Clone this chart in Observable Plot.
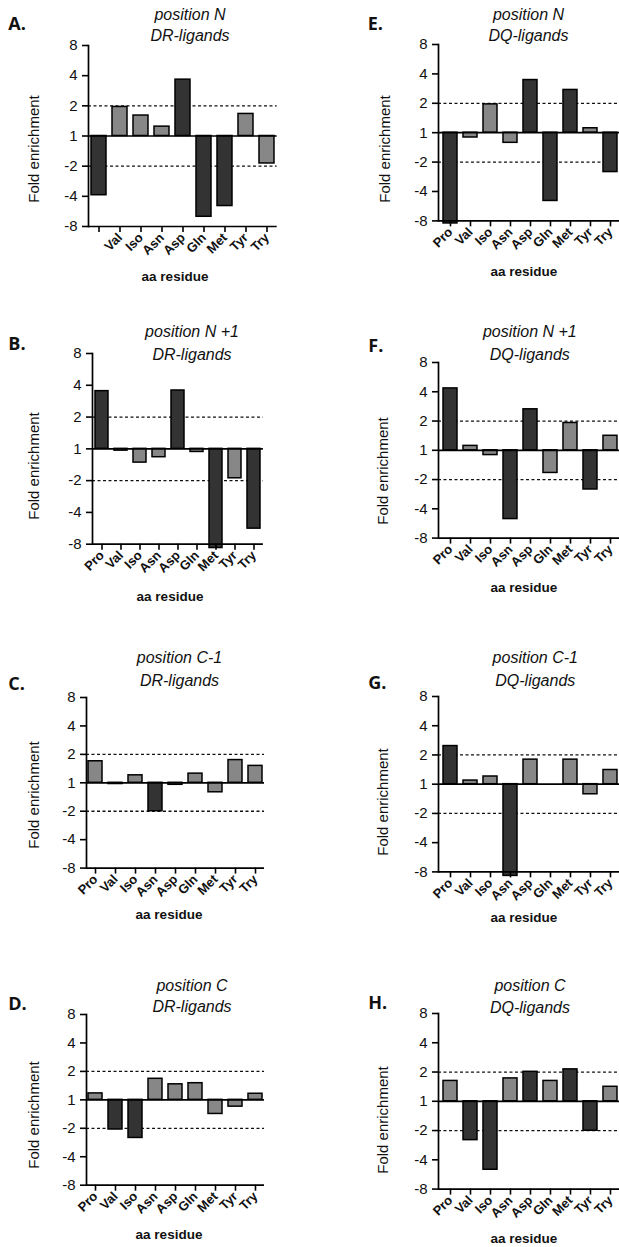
<!DOCTYPE html>
<html><head><meta charset="utf-8">
<script src="https://cdn.jsdelivr.net/npm/d3@7"></script>
<script src="https://cdn.jsdelivr.net/npm/@observablehq/plot@0.6"></script>
<style>
html,body{margin:0;padding:0;background:#fff;overflow:hidden;width:619px;height:1247px;}
#root{position:relative;width:619px;height:1247px;overflow:hidden;}
.abs{position:absolute;white-space:nowrap;font-family:"Liberation Sans",Arial,sans-serif;color:#111;line-height:1;}
.letter{font-family:"Open Sans",sans-serif;font-weight:700;font-size:18px;transform:translateY(-50%);}
.title{font-style:italic;font-size:16px;transform:translate(-50%,-50%);}
.ylab{font-size:15px;transform:translate(-50%,-50%) rotate(-90deg);}
.xlab{font-weight:bold;font-size:13.5px;transform:translate(-50%,-50%);}
svg{position:absolute;}
</style></head><body><div id="root"></div><script>
// ---- data ----
const residues = ["Pro","Val","Iso","Asn","Asp","Gln","Met","Tyr","Try"];
const yTickFolds = [8, 4, 2, 1, -2, -4, -8];
const thresholdFolds = [2, -2];
const positionTitles = ["position N", "position N +1", "position C-1", "position C"];
const ligandTitles = ["DR-ligands", "DQ-ligands"];
const panelLetters = ["A.","B.","C.","D.","E.","F.","G.","H."];

const foldA = [-3.9, 1.95, 1.6, 1.24, 3.65, -6.4, -5.0, 1.66, -1.88];
const sigA  = [1, 0, 0, 0, 1, 1, 1, 0, 0];
const foldB = [3.52, -1.04, -1.35, -1.2, 3.57, -1.07, -8.7, -1.9, -5.7];
const sigB  = [1, 0, 0, 0, 1, 0, 1, 0, 1];
const foldC = [1.69, -1.03, 1.2, -2.0, -1.05, 1.25, -1.26, 1.74, 1.51];
const sigC  = [0, 0, 0, 1, 0, 0, 0, 0, 0];
const foldD = [1.17, -2.06, -2.53, 1.67, 1.46, 1.5, -1.41, -1.18, 1.16];
const sigD  = [0, 1, 1, 0, 0, 0, 0, 0, 0];
const foldE = [-8.5, -1.12, 1.95, -1.27, 3.46, -5.0, 2.74, 1.11, -2.53];
const sigE  = [1, 0, 0, 0, 1, 1, 1, 0, 1];
const foldF = [4.33, 1.11, -1.12, -5.1, 2.64, -1.71, 1.91, -2.53, 1.41];
const sigF  = [1, 0, 0, 1, 1, 0, 0, 1, 0];
const foldG = [2.47, 1.09, 1.2, -8.8, 1.79, 1, 1.79, -1.27, 1.4];
const sigG  = [1, 0, 0, 1, 0, 0, 0, 0, 0];
const foldH = [1.62, -2.51, -5.06, 1.72, 2.01, 1.62, 2.13, -2.01, 1.41];
const sigH  = [0, 1, 1, 0, 1, 0, 1, 1, 0];
// Panel A shows no "Pro" tick label
const hiddenLabelsA = ["Pro"];

// ---- layout (positions / styles only) ----
const panels = [
  {letter:0, pos:0, lig:0, fold:foldA, sig:sigA, hidden:hiddenLabelsA, ax:88,    top:45,    bot:226,   step:21.2, lx:8.3,   ly:22.7,  tcx:190,   t1:15,    t2:36,    fx:33,    fy:149,   ax2:175,   ay:277},
  {letter:1, pos:1, lig:0, fold:foldB, sig:sigB, hidden:[], ax:91.7,  top:353.3, bot:544,   step:19.2, lx:8.3,   ly:343.3, tcx:192,   t1:332.3, t2:355,   fx:33,    fy:466,   ax2:170,   ay:597},
  {letter:2, pos:2, lig:0, fold:foldC, sig:sigC, hidden:[], ax:86,    top:696.7, bot:867.3, step:20,   lx:8.3,   ly:682.7, tcx:179.5, t1:658.3, t2:681,   fx:33,    fy:795,   ax2:169,   ay:915},
  {letter:3, pos:3, lig:0, fold:foldD, sig:sigD, hidden:[], ax:85.7,  top:1014.3,bot:1185,  step:20,   lx:8.3,   ly:1002.7,tcx:192,   t1:986,   t2:1007.3,fx:33,    fy:1115,  ax2:169,   ay:1235},
  {letter:4, pos:0, lig:1, fold:foldE, sig:sigE, hidden:[], ax:437.7, top:44.3,  bot:220.7, step:20.6, lx:367.7, ly:23,    tcx:528.5, t1:15,    t2:36,    fx:384,   fy:149,   ax2:523.8, ay:271.7},
  {letter:5, pos:1, lig:1, fold:foldF, sig:sigF, hidden:[], ax:437.7, top:361.7, bot:537.3, step:20.6, lx:368.3, ly:345,   tcx:529.8, t1:332,   t2:355,   fx:381.7, fy:470.7, ax2:523.8, ay:588.3},
  {letter:6, pos:2, lig:1, fold:foldG, sig:sigG, hidden:[], ax:437.7, top:696.3, bot:871.7, step:20.6, lx:368.3, ly:681.7, tcx:535.3, t1:658.3, t2:681,   fx:381.7, fy:801.7, ax2:523.8, ay:918},
  {letter:7, pos:3, lig:1, fold:foldH, sig:sigH, hidden:[], ax:437.7, top:1012.7,bot:1188.3,step:20.6, lx:368.3, ly:1001.7,tcx:530,   t1:986,   t2:1008,  fx:382,   fy:1120,  ax2:523.8, ay:1239}
];

// signed log2 position: 1 at 0, 2 at 1, -2 at -1 ...
const pos = f => f >= 1 ? Math.log2(f) : -Math.log2(-f);
const yTickPos = yTickFolds.map(pos);

const root = document.getElementById("root");
function addText(cls, txt, x, y) {
  const d = document.createElement("div");
  d.className = "abs " + cls;
  d.textContent = txt;
  d.style.left = x + "px";
  d.style.top = y + "px";
  root.appendChild(d);
}

const DARK = "#333333", LIGHT = "#878787";
for (const p of panels) {
  const rows = residues.map((aa, i) => ({aa, fold: p.fold[i], sig: p.sig[i]}));
  const mL = 64, mR = 2, mT = 8, mB = 52;
  const frameW = 8.9 * p.step;
  const frameH = p.bot - p.top;
  const chart = Plot.plot({
    width: mL + frameW + mR,
    height: mT + frameH + mB,
    marginLeft: mL, marginRight: mR, marginTop: mT, marginBottom: mB,
    style: {fontFamily: "'Liberation Sans', Arial, sans-serif", background: "transparent", overflow: "visible", color: "#111"},
    x: {type: "band", domain: residues, paddingInner: 0.3, paddingOuter: 0.1, label: null},
    y: {domain: [-3, 3], label: null},
    marks: [
      Plot.ruleY(thresholdFolds.map(pos), {stroke: "#111", strokeWidth: 1.3, strokeDasharray: "3,2.5"}),
      Plot.barY(rows, {x: "aa", y1: 0, y2: d => pos(d.fold), fill: d => d.sig ? DARK : LIGHT, stroke: "#000", strokeWidth: 1.5}),
      Plot.ruleY([0], {stroke: "#000", strokeWidth: 1.7}),
      Plot.ruleY([-3], {stroke: "#000", strokeWidth: 1.7}),
      Plot.frame({anchor: "left", stroke: "#000", strokeWidth: 1.7}),
      Plot.axisY({ticks: yTickPos, tickFormat: v => String(yTickFolds[yTickPos.indexOf(v)]), tickSize: 6, tickPadding: 5, fontSize: 15, label: null, strokeWidth: 1.6, stroke: "#000", fill: "#111"}),
      Plot.axisX({tickSize: 6, tickPadding: 3, tickRotate: -45, fontSize: 13, fontWeight: "bold", label: null, strokeWidth: 1.6, stroke: "#000", fill: "#111",
        tickFormat: d => p.hidden.includes(d) ? "" : d})
    ]
  });
  chart.style.left = (p.ax - mL) + "px";
  chart.style.top = (p.top - mT) + "px";
  root.appendChild(chart);

  addText("letter", panelLetters[p.letter], p.lx, p.ly);
  addText("title", positionTitles[p.pos], p.tcx, p.t1);
  addText("title", ligandTitles[p.lig], p.tcx, p.t2);
  addText("ylab", "Fold enrichment", p.fx, p.fy);
  addText("xlab", "aa residue", p.ax2, p.ay);
}
</script></body></html>
